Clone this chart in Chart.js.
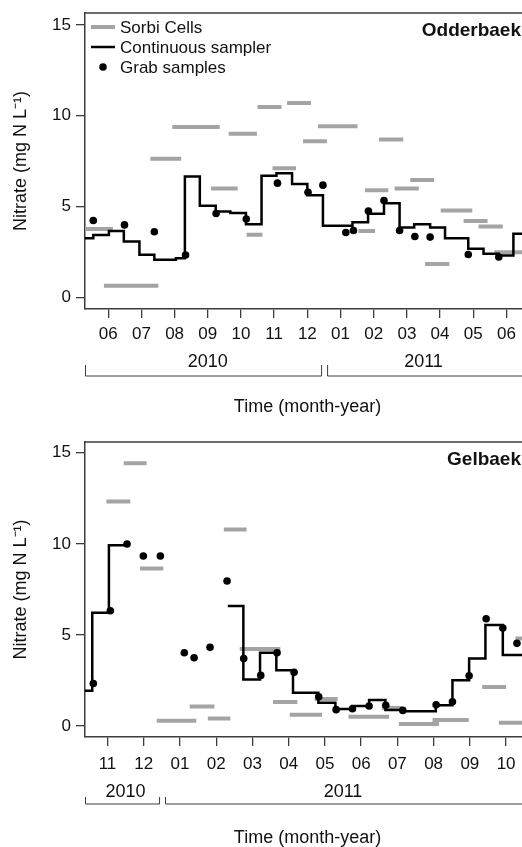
<!DOCTYPE html>
<html>
<head>
<meta charset="utf-8">
<title>Nitrate - Odderbaek / Gelbaek</title>
<script src="https://cdn.jsdelivr.net/npm/chart.js@4.4.1/dist/chart.umd.min.js"></script>
<style>
    html, body { margin: 0; padding: 0; background: #fff; overflow: hidden; }
    .panel { position: absolute; left: 0; width: 534px; }
    #odder-panel { top: 0; height: 424px; }
    #gel-panel { top: 424px; height: 423px; }
</style>
</head>
<body>
<div class="panel" id="odder-panel"><canvas id="odder-chart"></canvas></div>
<div class="panel" id="gel-panel"><canvas id="gel-chart"></canvas></div>
<script>
// x values are months: Jan 2010 = 1 ... Dec 2010 = 12, Jan 2011 = 13 (tick = mid-month)

// ---- Odderbaek ----
const odderMonths = [6, 7, 8, 9, 10, 11, 12, 13, 14, 15, 16, 17, 18];
const odderYears = ['2010', '2011'];
const odderYearTicks = [[6, 12], [13, 18]];

const odderSorbiStart = [5.30, 5.87, 7.27, 7.93, 9.10, 9.63, 10.17, 10.50, 11.39, 10.95, 11.87, 12.32, 13.54, 13.74, 14.16, 14.63, 15.10, 15.55, 16.02, 16.71, 17.16, 17.64];
const odderSorbiEnd   = [6.14, 7.51, 8.20, 9.36, 9.90, 10.48, 10.65, 11.22, 12.11, 11.66, 12.59, 13.51, 14.04, 14.44, 14.89, 15.36, 15.82, 16.28, 16.97, 17.43, 17.89, 18.71];
const odderSorbiVal   = [3.76, 0.64, 7.64, 9.38, 5.99, 9.01, 3.45, 10.49, 10.71, 7.11, 8.60, 9.42, 3.65, 5.90, 8.70, 6.00, 6.46, 1.84, 4.78, 4.20, 3.90, 2.49];

const odderContX = [5.30, 5.55, 6.02, 6.47, 6.94, 7.39, 8.04, 8.31, 8.76, 9.24, 9.68, 10.15, 10.62, 11.07, 11.54, 12.00, 12.47, 13.36, 13.83, 14.31, 14.78, 15.22, 15.70, 16.15, 16.85, 17.31, 17.77, 18.21, 18.71];
const odderContVal = [3.26, 3.44, 3.66, 3.08, 2.35, 2.07, 2.16, 6.65, 5.05, 4.73, 4.64, 4.03, 6.70, 6.83, 6.25, 5.62, 3.94, 4.14, 4.60, 5.19, 3.85, 4.03, 3.85, 3.26, 2.68, 2.40, 2.31, 3.50, 3.50];

const odderGrabX = [5.55, 6.49, 7.39, 8.33, 9.25, 10.16, 11.10, 12.02, 12.47, 13.16, 13.39, 13.84, 14.31, 14.78, 15.24, 15.70, 16.85, 17.77];
const odderGrabVal = [4.23, 3.99, 3.61, 2.33, 4.62, 4.32, 6.29, 5.79, 6.18, 3.57, 3.68, 4.76, 5.33, 3.68, 3.35, 3.32, 2.36, 2.22];

// ---- Gelbaek ----
const gelMonths = [11, 12, 13, 14, 15, 16, 17, 18, 19, 20, 21, 22];
const gelYears = ['2010', '2011'];
const gelYearTicks = [[11, 12], [13, 22]];

const gelSorbiStart = [10.97, 11.45, 11.90, 12.36, 13.27, 13.77, 14.21, 14.65, 15.57, 16.03, 16.72, 17.65, 18.58, 19.04, 19.97, 21.34, 21.80, 22.26];
const gelSorbiEnd   = [11.63, 12.08, 12.54, 13.45, 13.95, 14.39, 14.84, 15.77, 16.24, 16.92, 17.35, 18.77, 19.13, 20.15, 20.97, 22.00, 22.66, 22.66];
const gelSorbiVal   = [12.33, 14.42, 8.65, 0.29, 1.08, 0.42, 10.79, 4.23, 1.32, 0.62, 1.48, 0.51, 0.99, 0.11, 0.33, 2.14, 0.18, 4.81];

// null = no continuous record
const gelContX = [10.35, 10.58, 11.04, 11.52, 12.90, 14.32, 14.75, 15.21, 15.66, 16.12, 16.82, 17.29, 17.76, 18.22, 18.67, 19.13, 20.06, 20.52, 20.98, 21.43, 21.91, 22.66];
const gelContVal = [1.94, 6.22, 9.93, 9.93, null, 6.59, 2.56, 4.02, 3.07, 1.83, 1.28, 0.93, 1.10, 1.43, 0.88, 0.82, 1.14, 2.52, 3.71, 5.54, 3.90, 3.90];

const gelGrabX = [10.61, 11.08, 11.54, 11.99, 12.46, 13.12, 13.39, 13.83, 14.30, 14.76, 15.23, 15.68, 16.15, 16.83, 17.31, 17.76, 18.22, 18.68, 19.15, 20.07, 20.52, 20.98, 21.45, 21.91, 22.30];
const gelGrabVal = [2.34, 6.33, 9.99, 9.33, 9.33, 4.02, 3.75, 4.32, 7.96, 3.71, 2.78, 4.02, 2.95, 1.61, 0.90, 0.95, 1.10, 1.14, 0.86, 1.17, 1.33, 2.76, 5.89, 5.38, 4.54];

const yTicks = [0, 5, 10, 15];

const FONT = '"Liberation Sans", Arial, sans-serif';
const INK = '#111';
const AXIS = '#3c3c3c';
const GREY = '#a4a4a4';

function monthLabel(v) {
    return String(((v - 1) % 12) + 1).padStart(2, '0');
}

function segmentPoints(starts, ends, vals) {
    const pts = [];
    for (let i = 0; i < starts.length; i++) {
        pts.push({ x: starts[i], y: vals[i] }, { x: ends[i], y: vals[i] }, { x: ends[i], y: null });
    }
    return pts;
}

function zipPoints(xs, ys) {
    return xs.map((x, i) => ({ x: x, y: ys[i] }));
}

// box top edge, year brackets, legend and site name
const decorPlugin = {
    id: 'decor',
    afterDraw(chart, args, opts) {
        const ctx = chart.ctx;
        const area = chart.chartArea;
        const xs = chart.scales.x;
        ctx.save();

        ctx.strokeStyle = AXIS;
        ctx.lineWidth = 1.5;
        ctx.beginPath();
        ctx.moveTo(area.left, area.top);
        ctx.lineTo(area.right, area.top);
        ctx.stroke();

        // years under the month labels
        const brk = xs.getPixelForValue(opts.yearBreak);
        const yb = area.bottom + opts.bracketOffset;
        ctx.lineWidth = 1;
        ctx.font = '18px ' + FONT;
        ctx.fillStyle = INK;
        ctx.textAlign = 'center';
        ctx.textBaseline = 'middle';
        opts.years.forEach((yr, i) => {
            const x1 = i === 0 ? area.left + 0.5 : brk + 3;
            const x2 = i === 0 ? brk - 3 : area.right - 0.5;
            ctx.beginPath();
            ctx.moveTo(x1, yb - opts.bracketTick);
            ctx.lineTo(x1, yb);
            ctx.lineTo(x2, yb);
            ctx.lineTo(x2, yb - opts.bracketTick);
            ctx.stroke();
            const t = opts.yearTicks[i];
            const cx = (xs.getPixelForValue(t[0]) + xs.getPixelForValue(t[1])) / 2;
            ctx.fillText(yr, cx, area.bottom + opts.yearLabelOffset);
        });

        // legend inside the plot
        if (opts.legend) {
            ctx.font = '17px ' + FONT;
            ctx.textAlign = 'left';
            chart.data.datasets.forEach((ds, i) => {
                const y = area.top + 14 + i * 20;
                const x0 = area.left + 6;
                if (ds.showLine) {
                    ctx.strokeStyle = ds.borderColor;
                    ctx.lineWidth = ds.borderWidth;
                    ctx.beginPath();
                    ctx.moveTo(x0, y);
                    ctx.lineTo(x0 + 24, y);
                    ctx.stroke();
                } else {
                    ctx.fillStyle = ds.pointBackgroundColor;
                    ctx.beginPath();
                    ctx.arc(x0 + 12, y, ds.pointRadius, 0, Math.PI * 2);
                    ctx.fill();
                }
                ctx.fillStyle = INK;
                ctx.fillText(ds.label, x0 + 29, y + 1);
            });
        }

        ctx.font = 'bold 19px ' + FONT;
        ctx.fillStyle = INK;
        ctx.textAlign = 'right';
        ctx.fillText(opts.name, area.right - 9, area.top + 18);
        ctx.restore();
    }
};

function makeChart(canvasId, cfg) {
    const axisGrid = { display: true, drawOnChartArea: false, drawTicks: true, tickLength: 9, color: AXIS, lineWidth: 1.3 };
    const axisBorder = { display: true, color: AXIS, width: 1.5 };
    return new Chart(document.getElementById(canvasId), {
        type: 'scatter',
        data: {
            datasets: [
                {
                    label: 'Sorbi Cells',
                    data: segmentPoints(cfg.sorbiStart, cfg.sorbiEnd, cfg.sorbiVal),
                    showLine: true, spanGaps: false,
                    borderColor: GREY, borderWidth: 4, borderCapStyle: 'butt',
                    pointRadius: 0, order: 3
                },
                {
                    label: 'Continuous sampler',
                    data: zipPoints(cfg.contX, cfg.contVal),
                    showLine: true, spanGaps: false, stepped: 'before',
                    borderColor: '#000', borderWidth: 2.5,
                    pointRadius: 0, order: 2
                },
                {
                    label: 'Grab samples',
                    data: zipPoints(cfg.grabX, cfg.grabVal),
                    showLine: false,
                    pointRadius: 3.8, pointBackgroundColor: '#000', pointBorderWidth: 0,
                    borderColor: '#000', order: 1
                }
            ]
        },
        options: {
            responsive: true,
            maintainAspectRatio: false,
            animation: false,
            layout: { padding: { top: cfg.padTop, left: 0, right: 0, bottom: 0 } },
            plugins: {
                legend: { display: false },
                tooltip: { enabled: false },
                decor: {
                    name: cfg.name, legend: cfg.legend,
                    years: cfg.years, yearTicks: cfg.yearTicks, yearBreak: 12.52,
                    bracketOffset: 67, bracketTick: cfg.bracketTick, yearLabelOffset: cfg.yearLabelOffset
                }
            },
            scales: {
                x: {
                    type: 'linear',
                    min: cfg.xMin, max: cfg.xMax,
                    afterBuildTicks: (s) => { s.ticks = cfg.months.map(v => ({ value: v })); },
                    afterFit: (s) => { s.height = cfg.xHeight; s.paddingLeft = 0; s.paddingRight = 0; },
                    grid: axisGrid,
                    border: axisBorder,
                    ticks: {
                        color: INK, autoSkip: false, maxRotation: 0, padding: cfg.xTickPad,
                        font: { family: FONT, size: 17 },
                        callback: (v) => monthLabel(v)
                    },
                    title: {
                        display: true, text: 'Time (month-year)', color: INK,
                        font: { family: FONT, size: 18, lineHeight: 1 },
                        padding: { top: 0, bottom: cfg.xTitlePad }
                    }
                },
                y: {
                    min: cfg.yMin, max: cfg.yMax,
                    afterBuildTicks: (s) => { s.ticks = yTicks.map(v => ({ value: v })); },
                    afterFit: (s) => { s.width = 85; s.paddingTop = 0; s.paddingBottom = 0; },
                    grid: axisGrid,
                    border: axisBorder,
                    ticks: { color: INK, padding: 5, font: { family: FONT, size: 17 } },
                    title: {
                        display: true, text: 'Nitrate (mg N L⁻¹)', color: INK,
                        font: { family: FONT, size: 18, lineHeight: 1 },
                        padding: { top: 12, bottom: 0 }
                    }
                }
            }
        },
        plugins: [decorPlugin]
    });
}

makeChart('odder-chart', {
    name: 'Odderbaek', legend: true,
    months: odderMonths, years: odderYears, yearTicks: odderYearTicks,
    sorbiStart: odderSorbiStart, sorbiEnd: odderSorbiEnd, sorbiVal: odderSorbiVal,
    contX: odderContX, contVal: odderContVal,
    grabX: odderGrabX, grabVal: odderGrabVal,
    xMin: 5.30, xMax: 18.71, yMin: -0.64, yMax: 15.66,
    padTop: 13, xHeight: 115, xTickPad: 6, xTitlePad: 8,
    bracketTick: 11, yearLabelOffset: 53.5
});

makeChart('gel-chart', {
    name: 'Gelbaek', legend: false,
    months: gelMonths, years: gelYears, yearTicks: gelYearTicks,
    sorbiStart: gelSorbiStart, sorbiEnd: gelSorbiEnd, sorbiVal: gelSorbiVal,
    contX: gelContX, contVal: gelContVal,
    grabX: gelGrabX, grabVal: gelGrabVal,
    xMin: 10.38, xMax: 22.66, yMin: -0.60, yMax: 15.59,
    padTop: 18, xHeight: 110, xTickPad: 8, xTitlePad: 0,
    bracketTick: 7, yearLabelOffset: 54.7
});
</script>
</body>
</html>
